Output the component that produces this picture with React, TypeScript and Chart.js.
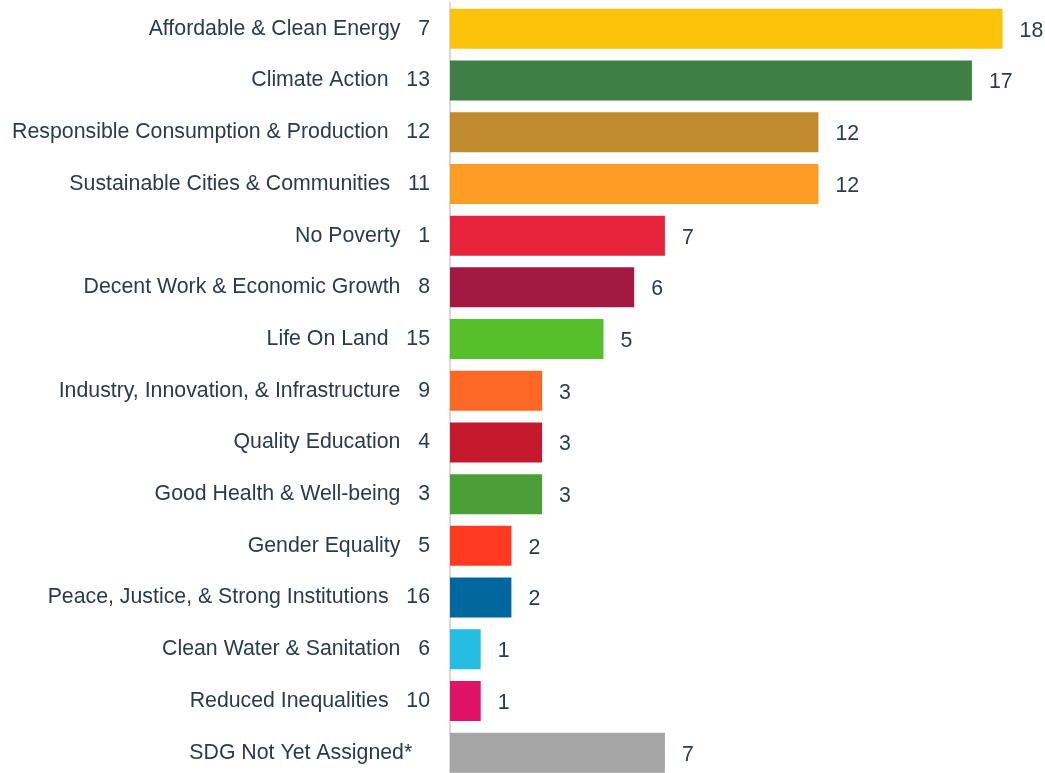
import React, { useEffect, useRef } from "react";
import { Chart, registerables } from "chart.js";

Chart.register(...registerables);

const categories = [
  "Affordable & Clean Energy   7",
  "Climate Action   13",
  "Responsible Consumption & Production   12",
  "Sustainable Cities & Communities   11",
  "No Poverty   1",
  "Decent Work & Economic Growth   8",
  "Life On Land   15",
  "Industry, Innovation, & Infrastructure   9",
  "Quality Education   4",
  "Good Health & Well-being   3",
  "Gender Equality   5",
  "Peace, Justice, & Strong Institutions   16",
  "Clean Water & Sanitation   6",
  "Reduced Inequalities   10",
  "SDG Not Yet Assigned*   ",
];

const values = [18, 17, 12, 12, 7, 6, 5, 3, 3, 3, 2, 2, 1, 1, 7];

const barColors = [
  "#FCC30B",
  "#3F7E44",
  "#BF8B2E",
  "#FD9D24",
  "#E5243B",
  "#A21942",
  "#56C02B",
  "#FD6925",
  "#C5192D",
  "#4C9F38",
  "#FF3A21",
  "#00689D",
  "#26BDE2",
  "#DD1367",
  "#A6A6A6",
];

const TEXT_COLOR = "#2C3A4C";
const FONT_FAMILY = "'Liberation Sans', Arial, sans-serif";
const FONT_SIZE = 21.3;

const valueLabelPlugin = {
  id: "valueLabels",
  afterDatasetsDraw(chart: any) {
    const ctx = chart.ctx;
    const meta = chart.getDatasetMeta(0);
    const data = chart.data.datasets[0].data;
    ctx.save();
    ctx.font = `${FONT_SIZE}px ${FONT_FAMILY}`;
    ctx.fillStyle = TEXT_COLOR;
    ctx.textAlign = "left";
    ctx.textBaseline = "middle";
    meta.data.forEach((bar: any, i: number) => {
      ctx.fillText(String(data[i]), bar.x + 17, bar.y + 2);
    });
    ctx.restore();
  },
};

export default function App() {
  const canvasRef = useRef<HTMLCanvasElement | null>(null);

  useEffect(() => {
    if (!canvasRef.current) return;
    const chart = new Chart(canvasRef.current, {
      type: "bar",
      data: {
        labels: categories,
        datasets: [
          {
            data: values,
            backgroundColor: barColors,
            borderWidth: 0,
            barPercentage: 0.774,
            categoryPercentage: 1,
          },
        ],
      },
      options: {
        indexAxis: "y",
        responsive: false,
        animation: false,
        layout: { padding: { top: 3, bottom: 3.5, left: 0, right: 11.7 } },
        plugins: {
          legend: { display: false },
          tooltip: { enabled: false },
        },
        scales: {
          x: {
            display: false,
            min: 0,
            max: 19,
          },
          y: {
            grid: { display: false, drawTicks: false },
            border: { display: true, color: "#D9D9D9", width: 2 },
            ticks: {
              color: TEXT_COLOR,
              font: { family: FONT_FAMILY, size: FONT_SIZE },
              padding: 20,
              autoSkip: false,
            },
            afterFit: (scale: any) => {
              scale.width = 450;
              scale.paddingTop = 0;
              scale.paddingBottom = 0;
            },
          },
        },
      },
      plugins: [valueLabelPlugin],
    });
    return () => chart.destroy();
  }, []);

  return (
    <div
      style={{
        position: "fixed",
        top: 0,
        left: 0,
        width: 1045,
        height: 773,
        overflow: "hidden",
        background: "#ffffff",
      }}
    >
      <canvas ref={canvasRef} width={1045} height={782} style={{ display: "block" }} />
    </div>
  );
}
